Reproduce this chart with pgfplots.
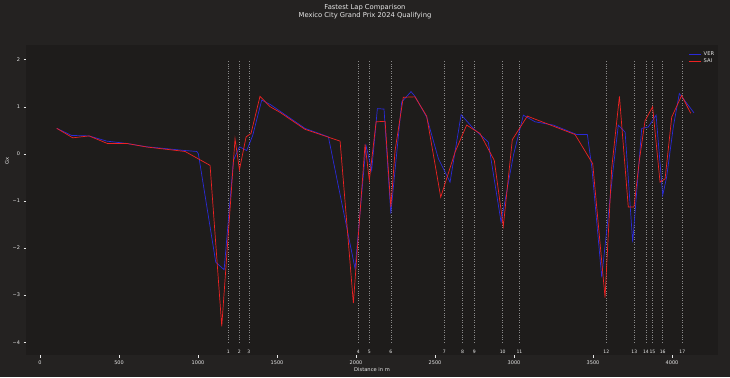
\documentclass[border=0pt]{standalone}
\usepackage{pgfplots}
\pgfplotsset{compat=1.18}
\usepackage{fontspec}
\setmainfont{DejaVu Sans}
\definecolor{figbg}{HTML}{242221}
\definecolor{axbg}{HTML}{1E1C1B}
\definecolor{txt}{HTML}{E8E8E8}
\definecolor{ver}{HTML}{2A2AD8}
\definecolor{sai}{HTML}{EE2222}
\definecolor{vl}{HTML}{8A8A8A}
\begin{document}
\begin{tikzpicture}[x=1bp,y=1bp]
\fill[figbg] (0,0) rectangle (730,377);
\begin{axis}[
  at={(26bp,22bp)}, anchor=south west,
  scale only axis, width=692bp, height=310bp,
  xmin=-89, xmax=4291, ymin=-4.27, ymax=2.31,
  axis background/.style={fill=axbg},
  axis line style={draw=none},
  tick style={color=txt, line width=0.4pt},
  major tick length=2.5bp, tick align=outside,
  xtick pos=bottom, ytick pos=left,
  xtick={0,500,1000,1500,2000,2500,3000,3500,4000},
  xticklabels={0,500,1000,1500,2000,2500,3000,3500,4000},
  ytick={-4,-3,-2,-1,0,1,2},
  yticklabels={−4,−3,−2,−1,0,1,2},
  ticklabel style={font=\fontsize{5}{6}\selectfont, text=txt},
  xlabel={Distance in m},
  every axis x label/.style={at={(axis description cs:0.5,0)}, yshift=-15bp, anchor=center,
    font=\fontsize{5.2}{6}\selectfont, text=txt},
  legend style={at={(axis description cs:0.999,0.99)}, anchor=north east, draw=none, fill=none,
    text=txt, font=\fontsize{5.2}{6}\selectfont, row sep=-1.5bp, inner sep=1bp},
  legend image code/.code={\draw[#1] (0bp,0bp) -- (12bp,0bp);},
  legend cell align=left,
  clip=false,
]
% corner lines
\pgfplotsset{cl/.style={forget plot, dotted, color=vl, line width=0.45pt}}
\addplot[cl] coordinates {(1192,-4) (1192,2)};
\addplot[cl] coordinates {(1262,-4) (1262,2)};
\addplot[cl] coordinates {(1321,-4) (1321,2)};
\addplot[cl] coordinates {(2015,-4) (2015,2)};
\addplot[cl] coordinates {(2084,-4) (2084,2)};
\addplot[cl] coordinates {(2220,-4) (2220,2)};
\addplot[cl] coordinates {(2559,-4) (2559,2)};
\addplot[cl] coordinates {(2675,-4) (2675,2)};
\addplot[cl] coordinates {(2749,-4) (2749,2)};
\addplot[cl] coordinates {(2928,-4) (2928,2)};
\addplot[cl] coordinates {(3034,-4) (3034,2)};
\addplot[cl] coordinates {(3584,-4) (3584,2)};
\addplot[cl] coordinates {(3761,-4) (3761,2)};
\addplot[cl] coordinates {(3835,-4) (3835,2)};
\addplot[cl] coordinates {(3876,-4) (3876,2)};
\addplot[cl] coordinates {(3941,-4) (3941,2)};
\addplot[cl] coordinates {(4065,-4) (4065,2)};
% VER
\addplot[color=ver, line width=0.7pt] coordinates {
(106,0.54) (200,0.39) (310,0.38) (422,0.27) (549,0.22) (675,0.15) (918,0.07) (992,0.05) (1002,0.0)
(1112,-2.30) (1165,-2.46) (1224,-0.14) (1262,0.15) (1308,0.07) (1346,0.39) (1403,1.14) (1456,1.05)
(1677,0.54) (1825,0.36) (1994,-2.44) (2063,0.18) (2099,-0.35) (2135,0.96) (2177,0.95) (2220,-1.27)
(2289,1.1) (2348,1.32) (2373,1.22) (2447,0.78) (2521,-0.1) (2595,-0.6) (2665,0.83) (2742,0.54)
(2837,0.25) (2918,-1.45) (2996,-0.03) (3059,0.82) (3133,0.68) (3249,0.61) (3397,0.41) (3464,0.41)
(3492,-0.28) (3555,-2.62) (3629,-0.28) (3660,0.61) (3703,0.46) (3751,-1.88) (3808,0.54) (3850,0.57)
(3899,0.82) (3941,-0.88) (3966,-0.49) (4008,0.57) (4046,1.28) (4139,0.87)
};
\addlegendentry{VER}
% SAI
\addplot[color=sai, line width=0.7pt] coordinates {
(106,0.54) (207,0.34) (310,0.38) (426,0.22) (549,0.22) (675,0.145) (918,0.05) (1076,-0.245)
(1150,-3.66) (1234,0.32) (1262,-0.34) (1304,0.36) (1335,0.43) (1392,1.22) (1456,1.0) (1519,0.88)
(1677,0.52) (1899,0.27) (1983,-3.17) (2057,0.2) (2084,-0.56) (2127,0.68) (2184,0.69) (2220,-1.13)
(2247,0.07) (2299,1.2) (2373,1.21) (2447,0.8) (2536,-0.92) (2627,0.04) (2700,0.61) (2785,0.43)
(2875,-0.14) (2932,-1.54) (2989,0.3) (3084,0.8) (3386,0.41) (3498,-0.21) (3576,-3.05) (3618,-0.31)
(3667,1.22) (3723,-1.13) (3759,-1.13) (3793,-0.14) (3829,0.7) (3877,1.0) (3924,-0.6) (3956,-0.53)
(3998,0.78) (4061,1.24) (4118,0.86)
};
\addlegendentry{SAI}
% corner labels
\begin{scope}[every node/.style={font=\fontsize{4.6}{5}\selectfont, text=txt, inner sep=0pt, anchor=base}]
\node at (axis cs:1192,-4.235) {1};
\node at (axis cs:1262,-4.235) {2};
\node at (axis cs:1321,-4.235) {3};
\node at (axis cs:2015,-4.235) {4};
\node at (axis cs:2084,-4.235) {5};
\node at (axis cs:2220,-4.235) {6};
\node at (axis cs:2559,-4.235) {7};
\node at (axis cs:2675,-4.235) {8};
\node at (axis cs:2749,-4.235) {9};
\node at (axis cs:2928,-4.235) {10};
\node at (axis cs:3034,-4.235) {11};
\node at (axis cs:3584,-4.235) {12};
\node at (axis cs:3761,-4.235) {13};
\node at (axis cs:3835,-4.235) {14};
\node at (axis cs:3876,-4.235) {15};
\node at (axis cs:3941,-4.235) {16};
\node at (axis cs:4065,-4.235) {17};
\end{scope}
\end{axis}
\node[rotate=90, font=\fontsize{5.2}{6}\selectfont, text=txt] at (7,216) {Gx};
\node[align=center, font=\fontsize{6.8}{8.2}\selectfont, text=txt] at (365,365) {Fastest Lap Comparison\\Mexico City Grand Prix 2024 Qualifying};
\pgfresetboundingbox
\useasboundingbox (0,0) rectangle (730,377);
\end{tikzpicture}
\end{document}
